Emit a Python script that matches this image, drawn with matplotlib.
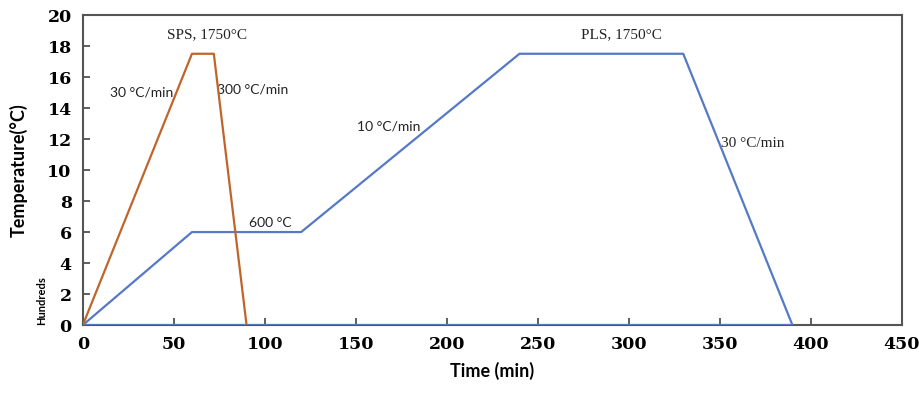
import matplotlib.pyplot as plt

# heating schedules, temperature in hundreds of degC
sps_time = [0, 60, 72, 90]
sps_temp = [0, 17.5, 17.5, 0]
pls_time = [0, 60, 120, 240, 330, 390]
pls_temp = [0, 6, 6, 17.5, 17.5, 0]

x_ticks = [0, 50, 100, 150, 200, 250, 300, 350, 400, 450]
y_ticks = [0, 2, 4, 6, 8, 10, 12, 14, 16, 18, 20]

fig = plt.figure(figsize=(9.2, 3.95), dpi=100)
ax = fig.add_axes([0.090, 0.177, 0.890, 0.785])

blue = '#5579C6'
orange = '#C0652A'

ax.plot([pls_time[0], pls_time[-1]], [0, 0], color=blue, lw=1.6, zorder=3)
ax.plot(pls_time, pls_temp, color=blue, lw=1.6, zorder=3)
ax.plot(sps_time, sps_temp, color=orange, lw=1.6, zorder=4)

ax.set_xlim(0, 450)
ax.set_ylim(0, 20)
tick_font = dict(fontfamily='DejaVu Serif', fontweight='bold', fontsize=12.5)
ax.set_xticks(x_ticks)
ax.set_xticklabels([str(v) for v in x_ticks], **tick_font)
ax.set_yticks(y_ticks)
ax.set_yticklabels([str(v) for v in y_ticks], **tick_font)
ax.tick_params(direction='in', length=5, width=1.2, color='#444444', pad=8)
for s in ax.spines.values():
    s.set_color('#555555')
    s.set_linewidth(1.5)

ax.set_xlabel('Time (min)', fontfamily='Lato', fontweight='bold', fontsize=13, labelpad=6)
ax.set_ylabel('Temperature(°C)', fontfamily='Lato', fontweight='bold', fontsize=13, labelpad=14)
ax.text(-22.5, 1.6, 'Hundreds', rotation=90, ha='center', va='center',
        fontfamily='Lato', fontweight='bold', fontsize=8)

# annotations
sans = dict(fontfamily='Lato', fontsize=10, color='#222222')
serif = dict(fontfamily='Liberation Serif', fontsize=11, color='#222222')
ax.text(68, 18.3, 'SPS, 1750°C', ha='center', va='bottom', **serif)
ax.text(15, 15.0, '30 °C/min', ha='left', va='center', **sans)
ax.text(74, 15.2, '300 °C/min', ha='left', va='center', **sans)
ax.text(103, 6.6, '600 °C', ha='center', va='center', **sans)
ax.text(168, 12.8, '10 °C/min', ha='center', va='center', **sans)
ax.text(296, 18.3, 'PLS, 1750°C', ha='center', va='bottom', **serif)
ax.text(351, 11.7, '30 °C/min', ha='left', va='center', **serif)

fig.savefig('out.png', dpi=100)
